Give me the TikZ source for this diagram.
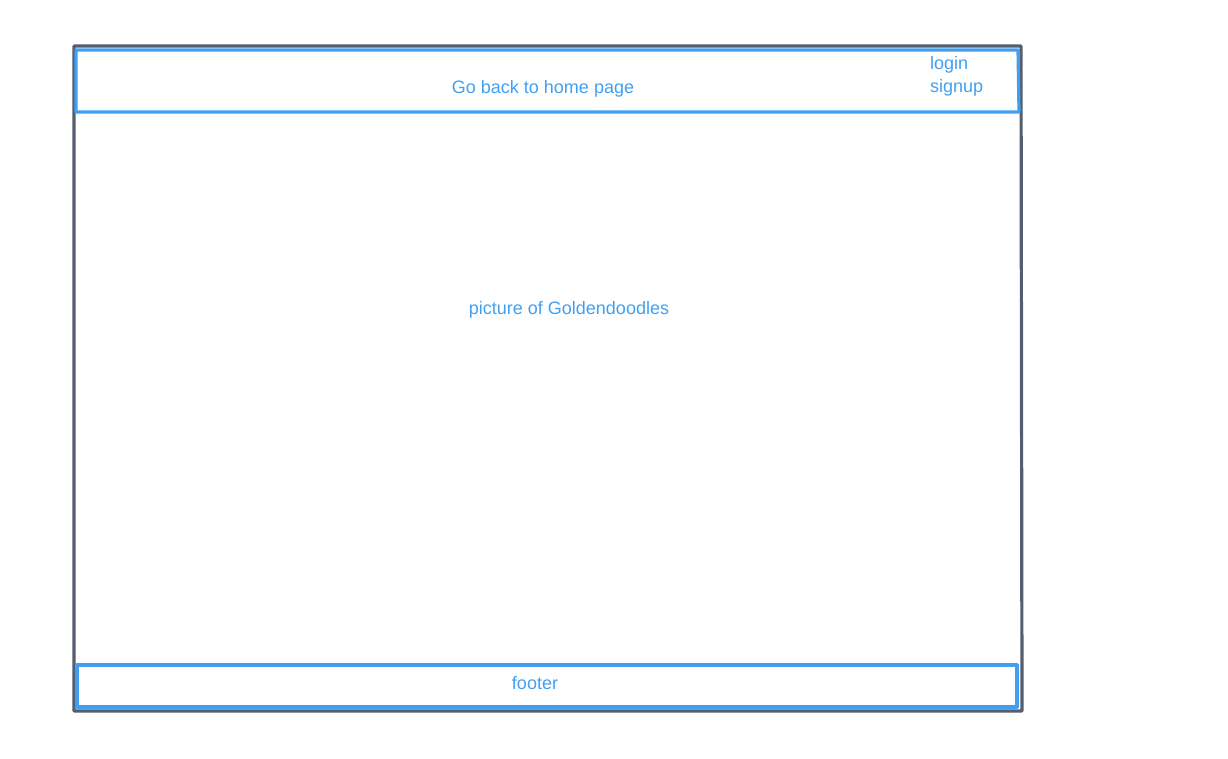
\documentclass[tikz,border=0pt]{standalone}
\usepackage{fontspec}
\setmainfont{Liberation Sans}
\definecolor{frame}{HTML}{555E6E}
\definecolor{wire}{HTML}{3FA0F2}
\begin{document}
\begin{tikzpicture}[x=1pt,y=-1pt,
  pagebox/.style={draw=frame,line width=3.2pt,line join=round},
  band/.style={draw=wire,line width=3.2pt,line join=round},
  label/.style={text=wire,font=\fontsize{18}{21}\selectfont,inner sep=0pt}]
\useasboundingbox (0,0) rectangle (1228,758);
% page outline
\draw[pagebox] (74,46) -- (1021,46) -- (1022,711) -- (74,711) -- cycle;
% header band
\draw[band] (76,50) -- (1018,50) -- (1019,112) -- (76,112) -- cycle;
% footer band
\draw[band] (77,665) -- (1017,665) -- (1017,707) -- (77,707) -- cycle;
% texts
\node[label] (home) at (543,89) {Go back to home page};
\node[label,anchor=west] (login) at (930,65) {login};
\node[label,anchor=west] (signup) at (930,88) {signup};
\node[label] (pic) at (569,310) {picture of Goldendoodles};
\node[label] (foot) at (535,683.5) {footer};
\end{tikzpicture}
\end{document}
